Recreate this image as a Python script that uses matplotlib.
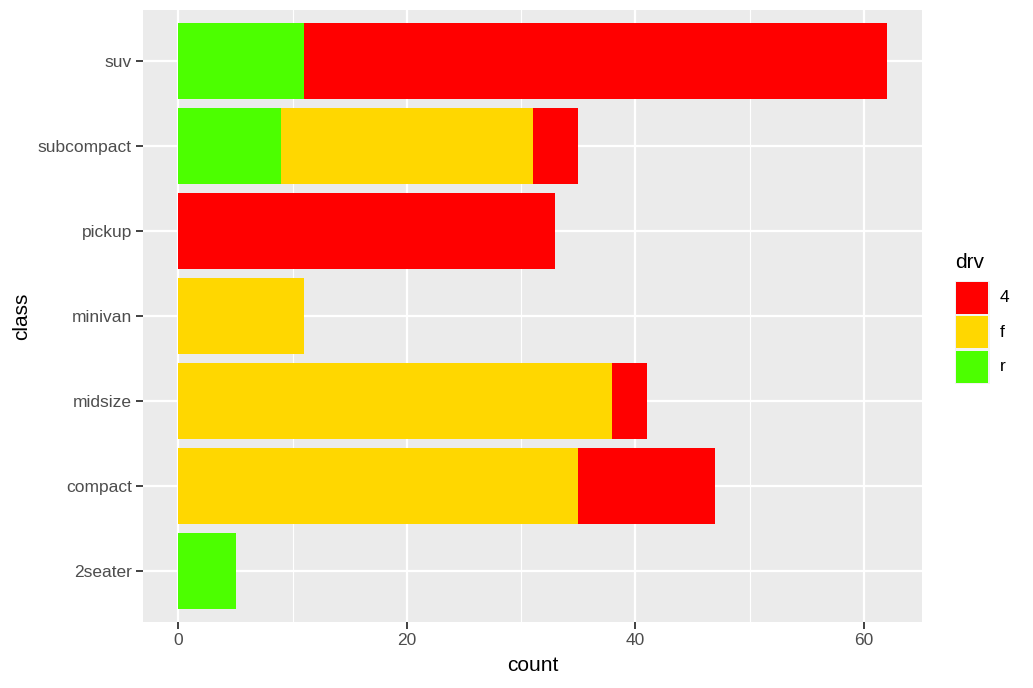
import numpy as np
import matplotlib.pyplot as plt
from matplotlib.patches import Rectangle

plt.rcParams['font.family'] = ['Liberation Sans', 'DejaVu Sans']

# counts of class by drv (mpg data)
classes = ['2seater', 'compact', 'midsize', 'minivan', 'pickup', 'subcompact', 'suv']
drv_levels = ['4', 'f', 'r']
count_4 = [0, 12, 3, 0, 33, 4, 51]
count_f = [0, 35, 38, 11, 0, 22, 0]
count_r = [5, 0, 0, 0, 0, 9, 11]
colors = {'4': '#FF0000', 'f': '#FFD700', 'r': '#4CFF00'}

W, H = 1033, 688
fig = plt.figure(figsize=(W / 100, H / 100), dpi=100)
ax = fig.add_axes([143/W, (H - 622)/H, 779/W, 612/H])
ax.set_facecolor('#EBEBEB')

y = np.arange(1, len(classes) + 1)
left = np.zeros(len(classes))
# stacking from 0: r, f, 4
for lvl, vals in [('r', count_r), ('f', count_f), ('4', count_4)]:
    vals = np.array(vals)
    ax.barh(y, vals, left=left, height=0.9, color=colors[lvl], zorder=3)
    left += vals

xmax = left.max()
ax.set_xlim(-0.05 * xmax, xmax * 1.05)
ax.set_ylim(0.4, len(classes) + 0.6)

ax.set_xticks([0, 20, 40, 60])
ax.set_xticks([10, 30, 50], minor=True)
ax.set_yticks(y)
ax.set_yticklabels(classes)
ax.grid(which='major', color='white', linewidth=1.6, zorder=1)
ax.grid(which='minor', axis='x', color='white', linewidth=0.8, zorder=1)
ax.set_axisbelow(True)
for s in ax.spines.values():
    s.set_visible(False)
ax.tick_params(which='major', length=5, width=1.3, color='#333333',
               labelcolor='#4D4D4D', labelsize=12.5, pad=3)
ax.tick_params(which='minor', length=0)
ax.set_xlabel('count', fontsize=15, labelpad=6)
ax.set_ylabel('class', fontsize=15, labelpad=5)

# legend
fig.text(955/W, 1 - 263/H, 'drv', fontsize=15, va='center', ha='left')
key_top = 280.5
key_h = 34.5
for i, lvl in enumerate(drv_levels):
    y0 = 1 - (key_top + key_h * (i + 1)) / H
    fig.patches.append(Rectangle((954.5/W, y0), 35/W, key_h/H,
                                 transform=fig.transFigure, facecolor='#F2F2F2',
                                 edgecolor='none'))
    fig.patches.append(Rectangle((956/W, y0 + 1.5/H), 32/W, 31.5/H,
                                 transform=fig.transFigure, facecolor=colors[lvl],
                                 edgecolor='none'))
    fig.text(1000/W, y0 + key_h / 2 / H, lvl, fontsize=12.5, va='center', ha='left')

fig.savefig('out.png', dpi=100)
